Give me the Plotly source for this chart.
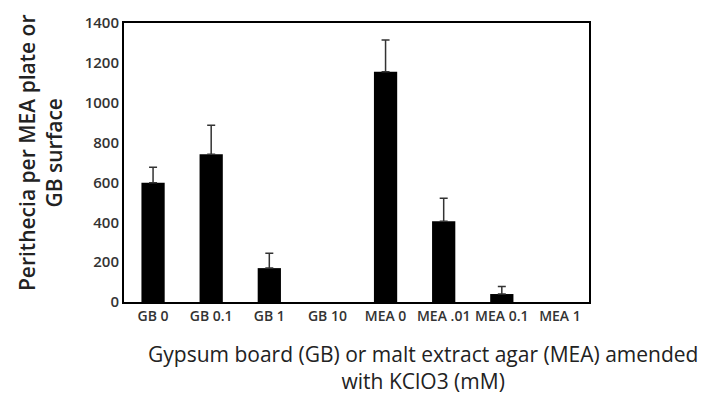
import plotly.graph_objects as go

categories = ["GB 0", "GB 0.1", "GB 1", "GB 10", "MEA 0", "MEA .01", "MEA 0.1", "MEA 1"]
means = [598, 742, 170, 0, 1155, 405, 40, 0]
errors_plus = [78, 145, 75, 0, 160, 115, 38, 0]
y_ticks = [0, 200, 400, 600, 800, 1000, 1200, 1400]

L, R, T, B = 124, 122, 21, 92
W, H = 711, 394
pw, ph = W - L - R, H - T - B

fig = go.Figure()
fig.add_trace(go.Bar(
    x=categories, y=means,
    marker=dict(color="black", line=dict(width=0)),
    width=0.4,
))
# error bars only where an error was drawn (non-zero)
idx = [i for i, e in enumerate(errors_plus) if e > 0]
fig.add_trace(go.Scatter(
    x=[categories[i] for i in idx], y=[means[i] for i in idx],
    mode="markers", marker=dict(opacity=0, size=1), hoverinfo="skip",
    error_y=dict(type="data", array=[errors_plus[i] for i in idx],
                 arrayminus=[0] * len(idx), symmetric=False,
                 color="#333333", thickness=1.5, width=4),
))

fig.update_layout(
    width=W, height=H,
    margin=dict(l=L, r=R, t=T, b=B),
    paper_bgcolor="white", plot_bgcolor="white",
    showlegend=False,
    font=dict(family="Open Sans", color="#333333"),
)
fig.update_xaxes(
    showline=True, linecolor="black", linewidth=2, mirror=True,
    showgrid=False, ticks="", tickfont=dict(size=14, color="#333333", weight=600),
)
fig.update_yaxes(
    range=[0, 1400], tickvals=y_ticks, showline=True, linecolor="black", linewidth=2,
    mirror=True, showgrid=False, zeroline=False, ticks="",
    tickfont=dict(size=15, color="#333333", weight=600),
)
fig.add_annotation(
    text="Perithecia per MEA plate or<br>GB surface", xref="paper", yref="paper",
    x=(40 - L) / pw, y=(H - B - 152) / ph, xanchor="center", yanchor="middle",
    textangle=-90, showarrow=False,
    font=dict(size=21, color="#222222", weight=600), align="center",
)
fig.add_annotation(
    text="Gypsum board (GB) or malt extract agar (MEA) amended<br>with KClO3 (mM)",
    xref="paper", yref="paper", x=(423 - L) / pw, y=(H - B - 338) / ph,
    xanchor="center", yanchor="top",
    showarrow=False, font=dict(size=21, color="#222222", weight=500), align="center",
)
fig.write_html("out.html", post_script="document.body.style.margin='0';",
               config={"displayModeBar": False})
